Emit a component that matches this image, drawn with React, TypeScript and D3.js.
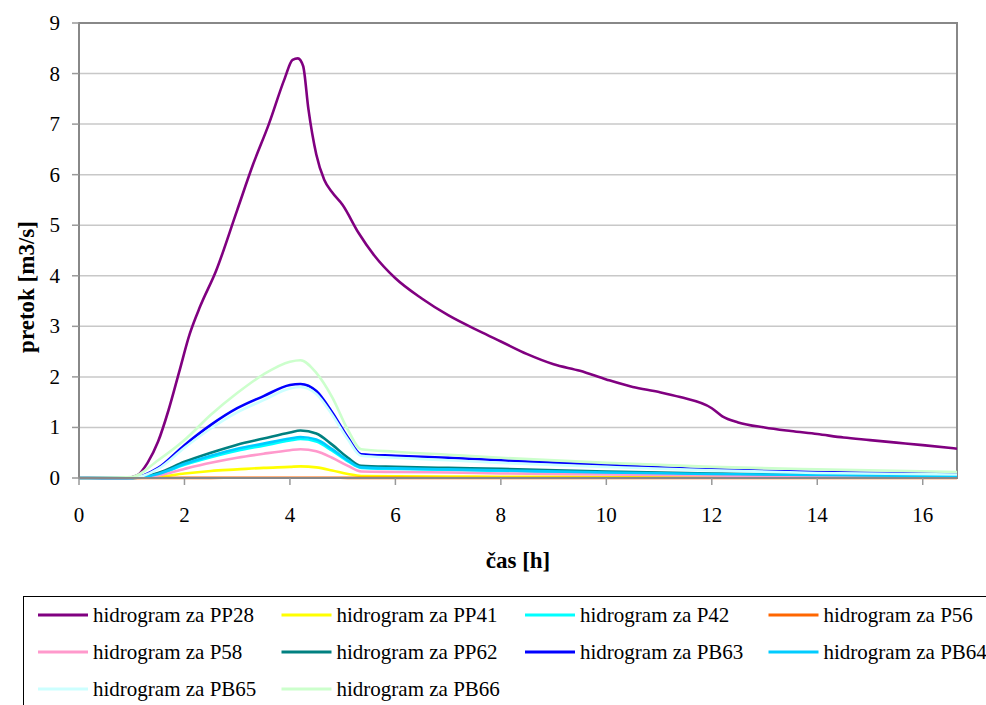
import { useMemo } from 'react';
import * as d3 from 'd3';

// hydrograph of the main reach (hours, m3/s)
const pp28Time = [0, 0.9, 1.1, 1.3, 1.5, 1.7, 1.9, 2.1, 2.3, 2.6, 3.0, 3.3, 3.6, 3.9, 4.05, 4.15, 4.25, 4.35, 4.5, 4.65, 4.8, 5.0, 5.3, 5.6, 6.0, 6.5, 7.0, 7.6, 8.0, 8.5, 9.0, 9.5, 10, 10.5, 11, 11.4, 12.0, 12.2, 12.5, 13, 13.5, 14, 14.5, 15, 15.5, 16, 16.65];
const pp28Flow = [0, 0, 0.05, 0.3, 0.72, 1.35, 2.1, 2.85, 3.4, 4.1, 5.3, 6.2, 7.0, 7.9, 8.27, 8.3, 8.15, 7.3, 6.4, 5.9, 5.65, 5.4, 4.85, 4.4, 3.95, 3.55, 3.22, 2.9, 2.7, 2.45, 2.25, 2.12, 1.95, 1.8, 1.7, 1.6, 1.38, 1.22, 1.1, 1.0, 0.93, 0.87, 0.8, 0.75, 0.7, 0.65, 0.58];

// shared time steps for the smaller catchments
const times = [0, 1.0, 1.5, 2.0, 2.5, 3.0, 3.5, 4.0, 4.2, 4.5, 4.8, 5.1, 5.35, 6, 7, 8, 10, 12, 14, 16.65];
const pp41 = [0, 0, 0.02, 0.09, 0.14, 0.17, 0.2, 0.22, 0.23, 0.21, 0.15, 0.08, 0.04, 0.035, 0.03, 0.025, 0.02, 0.015, 0.01, 0.01];
const p42 = [0, 0, 0.07, 0.26, 0.41, 0.54, 0.64, 0.74, 0.77, 0.72, 0.54, 0.33, 0.2, 0.18, 0.16, 0.14, 0.1, 0.07, 0.05, 0.04];
const p56 = [0, 0, 0, 0.002, 0.003, 0.004, 0.005, 0.005, 0.005, 0.005, 0.004, 0.003, 0.002, 0.002, 0.001, 0.001, 0.001, 0.001, 0, 0];
const p58 = [0, 0, 0.05, 0.18, 0.3, 0.4, 0.48, 0.55, 0.57, 0.53, 0.4, 0.24, 0.13, 0.12, 0.11, 0.09, 0.07, 0.05, 0.03, 0.02];
const pp62 = [0, 0, 0.1, 0.32, 0.5, 0.66, 0.78, 0.9, 0.94, 0.88, 0.66, 0.4, 0.24, 0.22, 0.2, 0.18, 0.13, 0.09, 0.07, 0.05];
const pb63 = [0, 0, 0.2, 0.65, 1.05, 1.38, 1.62, 1.84, 1.86, 1.72, 1.3, 0.8, 0.47, 0.44, 0.4, 0.35, 0.26, 0.17, 0.12, 0.08];
const pb64 = [0, 0, 0.08, 0.28, 0.44, 0.58, 0.68, 0.78, 0.81, 0.76, 0.57, 0.35, 0.21, 0.19, 0.17, 0.15, 0.11, 0.08, 0.06, 0.04];
const pb65 = [0, 0, 0.18, 0.6, 0.98, 1.3, 1.54, 1.77, 1.8, 1.66, 1.25, 0.76, 0.44, 0.4, 0.35, 0.3, 0.22, 0.15, 0.1, 0.07];
const pb66 = [0, 0.02, 0.35, 0.75, 1.25, 1.68, 2.05, 2.3, 2.33, 2.08, 1.6, 0.95, 0.57, 0.52, 0.46, 0.4, 0.3, 0.22, 0.17, 0.12];

const seriesNames = ['PP28', 'PP41', 'P42', 'P56', 'P58', 'PP62', 'PB63', 'PB64', 'PB65', 'PB66'];
const seriesColors = ['#800080', '#FFFF00', '#00FFFF', '#FF6600', '#FF99CC', '#008080', '#0000FF', '#00CCFF', '#CCFFFF', '#CCFFCC'];
const seriesTimes = [pp28Time, times, times, times, times, times, times, times, times, times];
const seriesFlows = [pp28Flow, pp41, p42, p56, p58, pp62, pb63, pb64, pb65, pb66];

const xTicks = [0, 2, 4, 6, 8, 10, 12, 14, 16];
const yTicks = [0, 1, 2, 3, 4, 5, 6, 7, 8, 9];

const W = 986;
const H = 705;
const font = 'Liberation Serif, DejaVu Serif, serif';

export default function App() {
  const x = useMemo(() => d3.scaleLinear().domain([0, 16.65]).range([79, 957]), []);
  const y = useMemo(() => d3.scaleLinear().domain([0, 9]).range([478, 23]), []);

  const line = d3.line<[number, number]>()
    .x(d => x(d[0]))
    .y(d => y(d[1]))
    .curve(d3.curveMonotoneX);

  const series = seriesNames.map((name, i) => ({
    name,
    color: seriesColors[i],
    points: seriesTimes[i].map((t, j) => [t, seriesFlows[i][j]] as [number, number]),
  }));

  const [x0, x1] = x.range();
  const [y0, y1] = y.range();

  return (
    <div style={{ position: 'absolute', left: 0, top: 0 }}>
      <svg width={W} height={H} style={{ display: 'block', background: '#fff' }}>
        {/* gridlines */}
        {yTicks.filter(t => t > 0 && t < 9).map(t => (
          <line key={t} x1={x0} x2={x1} y1={y(t)} y2={y(t)} stroke="#c8c8c8" strokeWidth={1.5} />
        ))}

        {/* plot frame */}
        <rect x={x0} y={y1} width={x1 - x0} height={y0 - y1} fill="none" stroke="#888" strokeWidth={2} />

        {/* series */}
        {series.map(s => (
          <path key={s.name} d={line(s.points) || ''} fill="none" stroke={s.color} strokeWidth={2.6} strokeLinejoin="round" />
        ))}

        {/* axes */}
        <line x1={x0} x2={x1} y1={y0} y2={y0} stroke="#888" strokeWidth={2} />
        <line x1={x0} x2={x0} y1={y1} y2={y0} stroke="#888" strokeWidth={2} />

        {yTicks.map(t => (
          <g key={t}>
            <line x1={x0 - 7} x2={x0} y1={y(t)} y2={y(t)} stroke="#999" strokeWidth={1.5} />
            <text x={60} y={y(t) + 7} textAnchor="end" fontFamily={font} fontSize={21}>{t}</text>
          </g>
        ))}
        {xTicks.map(t => (
          <g key={t}>
            <line x1={x(t)} x2={x(t)} y1={y0} y2={y0 + 7} stroke="#999" strokeWidth={1.5} />
            <text x={x(t)} y={522} textAnchor="middle" fontFamily={font} fontSize={21}>{t}</text>
          </g>
        ))}

        <text x={518} y={568} textAnchor="middle" fontFamily={font} fontSize={23} fontWeight="bold">čas [h]</text>
        <text transform="translate(34,287) rotate(-90)" textAnchor="middle" fontFamily={font} fontSize={23} fontWeight="bold">pretok [m3/s]</text>

        {/* legend */}
        <rect x={23.5} y={596.5} width={1000} height={200} fill="none" stroke="#000" strokeWidth={1} />
        {series.map((s, i) => {
          const col = i % 4;
          const row = Math.floor(i / 4);
          const lx = 38 + col * 243.5;
          const ly = 615 + row * 37;
          return (
            <g key={s.name}>
              <line x1={lx} x2={lx + 50} y1={ly} y2={ly} stroke={s.color} strokeWidth={3} />
              <text x={lx + 55} y={ly + 7} fontFamily={font} fontSize={21}>hidrogram za {s.name}</text>
            </g>
          );
        })}
      </svg>
    </div>
  );
}
